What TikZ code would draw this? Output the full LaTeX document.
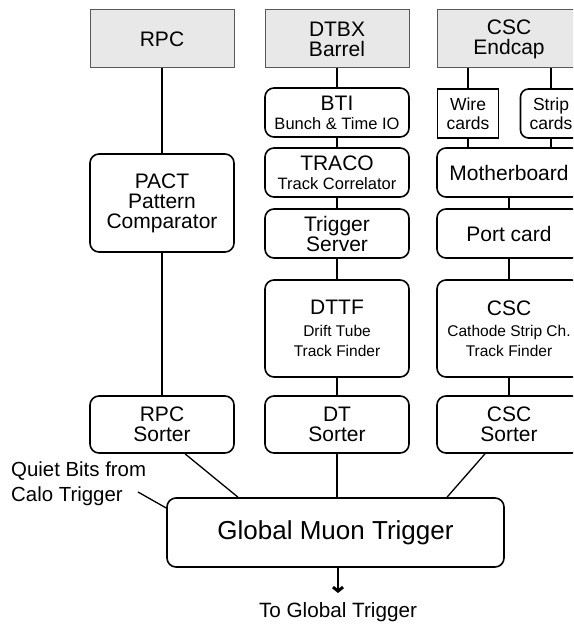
\documentclass[tikz,border=0pt]{standalone}
\usepackage{fontspec}
\setmainfont{Liberation Sans}
\usepackage{tikz}
\usetikzlibrary{positioning}
\usetikzlibrary{arrows.meta}

\newcommand{\subsize}{\fontsize{16.5}{18}\selectfont}
\newcommand{\tfsize}{\fontsize{15.5}{20}\selectfont}

\tikzset{
  unit/.style={draw,line width=1.6pt,rounded corners=9pt,align=center,inner sep=0pt,
    minimum width=144pt,font=\fontsize{21}{20}\selectfont},
  det/.style={draw=gray!70!black,line width=1pt,fill=gray!18,align=center,inner sep=0pt,
    minimum width=144pt,minimum height=58pt,font=\fontsize{21}{20}\selectfont},
  card/.style={unit,minimum width=61pt,minimum height=49pt,font=\fontsize{17.5}{19}\selectfont},
  link/.style={line width=1.3pt}
}

\begin{document}
\begin{tikzpicture}[x=1pt,y=-1pt]
  \useasboundingbox (0,0) rectangle (573,628);
  \clip (0,0) rectangle (573,628);

  % detectors
  \node at (162,39) [det] (rpc) {RPC};
  \node at (337,39) [det] (dtbx) {DTBX\\Barrel};
  \node at (509,39) [det] (csc) {CSC\\Endcap};

  % RPC column
  \node at (162,203) [unit,minimum height=98pt] (pact) {
    PACT\\Pattern\\Comparator
  };
  \node at (162,424.5) [unit,minimum height=57pt] (rpcsort) {RPC\\Sorter};

  % DT column
  \node at (337,112.5) [unit,minimum height=49pt] (bti) {
    BTI\\[-1pt]{\subsize Bunch \& Time IO}
  };
  \node at (337,172.5) [unit,minimum height=49pt] (traco) {
    TRACO\\[-1pt]{\subsize Track Correlator}
  };
  \node at (337,233.5) [unit,minimum height=49pt] (server) {Trigger\\Server};
  \node at (337,328.5) [unit,minimum height=97pt] (dttf) {
    DTTF\\[2pt]{\tfsize Drift Tube}\\{\tfsize Track Finder}
  };
  \node at (337,424.5) [unit,minimum height=57pt] (dtsort) {DT\\Sorter};

  % CSC column
  \node at (468,113.5) [card,sharp corners] (wire) {Wire\\cards};
  \node at (551,113.5) [card,rounded corners=8pt] (strip) {Strip\\cards};
  \node at (509,172.5) [unit,minimum height=49pt] (mother) {Motherboard};
  \node at (509,233.5) [unit,minimum height=49pt] (port) {Port card};
  \node at (509,328.5) [unit,minimum height=97pt] (csctf) {
    CSC\\[1pt]{\tfsize Cathode Strip Ch.}\\{\tfsize Track Finder}
  };
  \node at (509,424.5) [unit,minimum height=57pt] (cscsort) {CSC\\Sorter};

  % global muon trigger
  \node at (335.5,532.5) [unit,minimum width=337pt,minimum height=69pt,
    font=\fontsize{26}{28}\selectfont] (gmt) {Global Muon Trigger};
  \node at (11,484) [anchor=west,align=left,inner sep=0pt,
    font=\fontsize{20.4}{25}\selectfont] (quiet) {Quiet Bits from\\Calo Trigger};
  \node at (338,612) [inner sep=0pt,font=\fontsize{20.7}{22}\selectfont] (togt) {To Global Trigger};
  \coordinate (qend) at (138,492);
  \coordinate (tip) at (338,593);

  \draw[link] (rpc) -- (pact);
  \draw[link] (pact) -- (rpcsort);
  \draw[link] ([xshift=23pt]rpcsort.south) -- ([xshift=-97.5pt]gmt.north);

  \draw[link] (dtbx) -- (bti);
  \draw[link] (bti) -- (traco);
  \draw[link] (traco) -- (server);
  \draw[link] (server) -- (dttf);
  \draw[link] (dttf) -- (dtsort);
  \draw[link] (dtsort.south) -- (dtsort.south |- gmt.north);

  \draw[link] (wire.north) -- (wire.north |- csc.south);
  \draw[link] (strip.north) -- (strip.north |- csc.south);
  \draw[link] (wire.south) -- (wire.south |- mother.north);
  \draw[link] (strip.south) -- (strip.south |- mother.north);
  \draw[link] (mother) -- (port);
  \draw[link] (port) -- (csctf);
  \draw[link] (csctf) -- (cscsort);
  \draw[link] ([xshift=-24pt]cscsort.south) -- ([xshift=111.5pt]gmt.north);

  \draw[link] (qend) -- ([yshift=24.5pt]gmt.west);
  \draw[link,-{Straight Barb[length=4pt,width=10pt,line width=3pt]}] (tip |- gmt.south) -- (tip);
\end{tikzpicture}
\end{document}
